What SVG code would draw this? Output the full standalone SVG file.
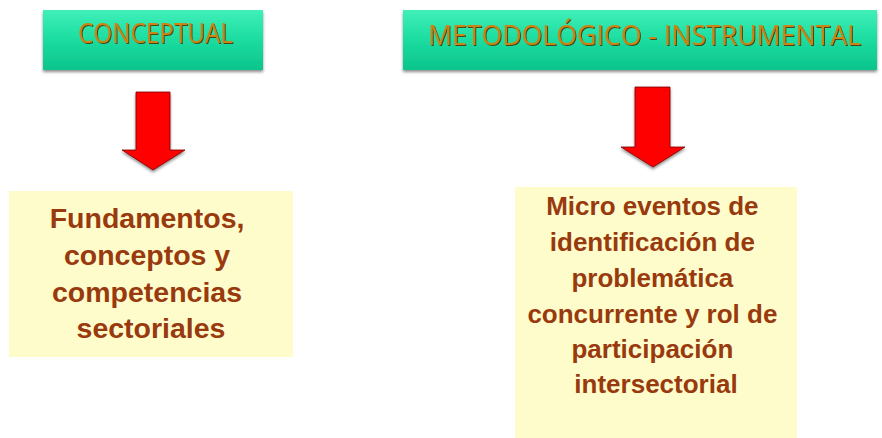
<svg xmlns="http://www.w3.org/2000/svg" width="882" height="438" viewBox="0 0 882 438">
<defs>
<linearGradient id="g" x1="0" y1="0" x2="0" y2="1">
<stop offset="0" stop-color="#3ff0b8"/>
<stop offset="0.5" stop-color="#1cdca0"/>
<stop offset="1" stop-color="#0cc48c"/>
</linearGradient>
<filter id="sh" x="-5%" y="-10%" width="110%" height="130%">
<feGaussianBlur in="SourceAlpha" stdDeviation="1.5"/>
<feOffset dx="0" dy="2" result="b"/>
<feFlood flood-color="#000" flood-opacity="0.45"/>
<feComposite in2="b" operator="in"/>
<feMerge><feMergeNode/><feMergeNode in="SourceGraphic"/></feMerge>
</filter>
<filter id="ts" filterUnits="userSpaceOnUse" x="0" y="0" width="882" height="90">
<feGaussianBlur in="SourceAlpha" stdDeviation="0.6"/>
<feOffset dx="0.8" dy="1" result="b"/>
<feFlood flood-color="#4a2a00" flood-opacity="0.85"/>
<feComposite in2="b" operator="in"/>
<feMerge><feMergeNode/><feMergeNode in="SourceGraphic"/></feMerge>
</filter>
</defs>
<style>
.hdr{fill:url(#g);filter:url(#sh)}
.ht{font-family:"Open Sans","Liberation Sans",sans-serif;fill:#cc8412;filter:url(#ts)}
.yb{fill:#fffccc}
.bt{font-family:"Liberation Sans",Arial,sans-serif;font-weight:bold;fill:#983a0e;text-anchor:middle}
.arr{fill:#ff0000;stroke:#7a0000;stroke-width:0.8;filter:url(#sh)}
</style>
<g id="conceptual">
<rect class="hdr" x="43" y="10" width="220" height="60"/>
<text class="ht" x="78" y="43" font-size="28" textLength="155" lengthAdjust="spacingAndGlyphs">CONCEPTUAL</text>
</g>
<g id="metodologico">
<rect class="hdr" x="403" y="10" width="474" height="60"/>
<text class="ht" x="428" y="45" font-size="26.5" textLength="433" lengthAdjust="spacingAndGlyphs">METODOLÓGICO - INSTRUMENTAL</text>
</g>
<g id="connectors">
<path class="arr" d="M136,92 H170 V150 H185 L153,170 L122,150 H136 Z"/>
<path class="arr" d="M635,87 H670 V147 H685 L653,167 L621,147 H635 Z"/>
</g>
<g id="fundamentos">
<rect class="yb" x="9" y="191" width="284" height="166"/>
<text class="bt" font-size="28.5">
<tspan x="151" y="228">Fundamentos,</tspan>
<tspan x="151" y="265">conceptos y</tspan>
<tspan x="151" y="302">competencias</tspan>
<tspan x="151" y="338">sectoriales</tspan>
</text>
</g>
<g id="micro">
<rect class="yb" x="515" y="187" width="282" height="251"/>
<text class="bt" font-size="26">
<tspan x="656" y="215">Micro eventos de</tspan>
<tspan x="656" y="251">identificación de</tspan>
<tspan x="656" y="287">problemática</tspan>
<tspan x="656" y="323">concurrente y rol de</tspan>
<tspan x="656" y="358">participación</tspan>
<tspan x="656" y="393">intersectorial</tspan>
</text>
</g>
</svg>
